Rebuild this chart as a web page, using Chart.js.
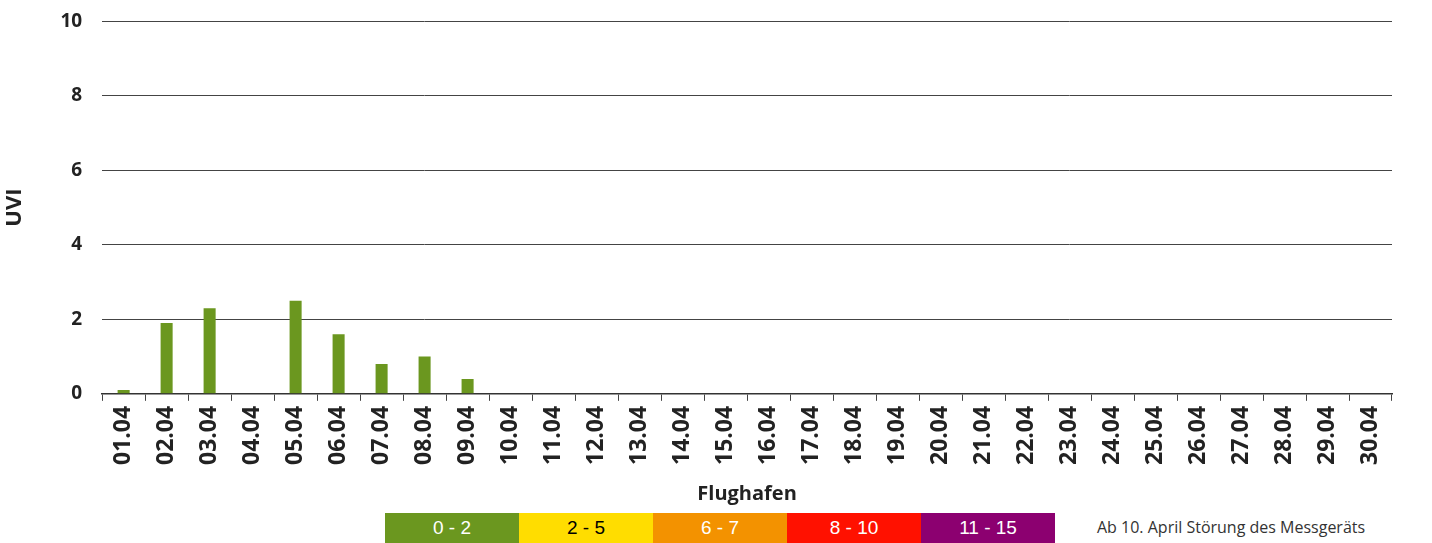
<!DOCTYPE html>
<html>
<head>
<meta charset="utf-8">
<script src="https://cdn.jsdelivr.net/npm/chart.js@4"></script>
<style>
  body { margin: 0; background: #fff; font-family: "Open Sans", sans-serif; overflow: hidden; }
  #wrap { position: relative; width: 1432px; height: 543px; overflow: hidden; }
  #chart { position: absolute; left: 0; top: -10px; }
  .scale { position: absolute; top: 513px; left: 385px; display: flex; height: 30px; }
  .scale div { width: 134px; text-align: center; line-height: 30px; font-family: "Liberation Sans Narrow", "Liberation Sans", sans-serif; font-size: 19px; }
  .note { position: absolute; left: 1097px; top: 516px; font-size: 16px; color: #333; font-family: "Liberation Sans Narrow", "Open Sans", sans-serif; }
</style>
</head>
<body>
<div id="wrap">
  <canvas id="chart" width="1432" height="516"></canvas>
  <div class="scale" id="scale"></div>
  <div class="note">Ab 10. April Störung des Messgeräts</div>
</div>
<script>
// ==================== DATA ====================
const days = ['01.04','02.04','03.04','04.04','05.04','06.04','07.04','08.04','09.04','10.04',
              '11.04','12.04','13.04','14.04','15.04','16.04','17.04','18.04','19.04','20.04',
              '21.04','22.04','23.04','24.04','25.04','26.04','27.04','28.04','29.04','30.04'];
const uvi = [0.1, 1.9, 2.3, 0, 2.5, 1.6, 0.8, 1.0, 0.4,
             null, null, null, null, null, null, null, null, null, null, null,
             null, null, null, null, null, null, null, null, null, null];
const yTicks = [0, 2, 4, 6, 8, 10];

// UV-Skala unten
const scaleLabels = ['0 - 2', '2 - 5', '6 - 7', '8 - 10', '11 - 15'];
const scaleColors = ['#6b971f', '#ffdd00', '#f39200', '#ff1100', '#8c0070'];
const scaleText = ['#fff', '#000', '#fff', '#fff', '#fff'];

const scaleEl = document.getElementById('scale');
scaleLabels.forEach((l, i) => {
    const d = document.createElement('div');
    d.textContent = l;
    d.style.background = scaleColors[i];
    d.style.color = scaleText[i];
    scaleEl.appendChild(d);
});

// ==================== CHART ====================
new Chart(document.getElementById('chart'), {
    type: 'bar',
    data: {
        labels: days,
        datasets: [{
            label: 'UVI',
            data: uvi,
            backgroundColor: '#6b971f',
            barPercentage: 0.28,
            categoryPercentage: 1
        }]
    },
    options: {
        responsive: false,
        animation: false,
        layout: { padding: { left: 0, right: 40, top: 0, bottom: 0 } },
        plugins: { legend: { display: false }, tooltip: { enabled: false } },
        scales: {
            x: {
                grid: { drawOnChartArea: false, color: '#444', tickLength: 7, offset: true },
                border: { color: '#333', width: 1.5 },
                ticks: {
                    minRotation: 90, maxRotation: 90, padding: 5,
                    color: '#222',
                    font: { family: 'Open Sans', size: 23, weight: 'bold' }
                },
                title: {
                    display: true, text: 'Flughafen', color: '#222',
                    padding: { top: 12, bottom: 0 },
                    font: { family: 'Open Sans', size: 20, weight: 'bold' }
                }
            },
            y: {
                min: 0, max: 10,
                afterBuildTicks: axis => { axis.ticks = yTicks.map(v => ({ value: v })); },
                grid: { color: '#444', drawTicks: false },
                border: { display: false },
                ticks: {
                    padding: 20, color: '#222',
                    font: { family: 'Open Sans', size: 19, weight: 'bold' }
                },
                title: {
                    display: true, text: 'UVI', color: '#222',
                    padding: { top: 2, bottom: 12 },
                    font: { family: 'Open Sans', size: 22, weight: 'bold' }
                }
            }
        }
    }
});
</script>
</body>
</html>
